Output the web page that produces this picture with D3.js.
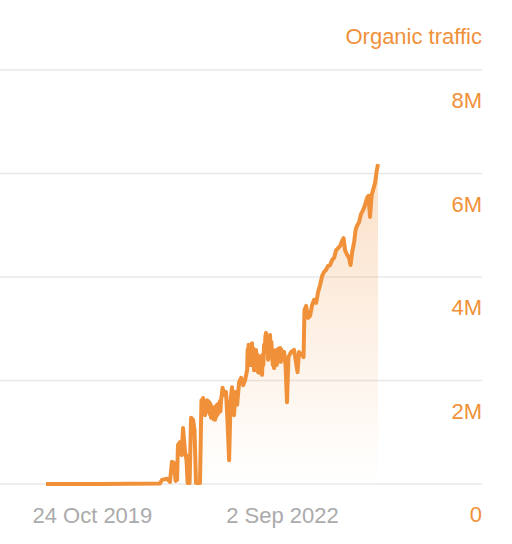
<!DOCTYPE html>
<html>
<head>
<meta charset="utf-8">
<script src="https://cdn.jsdelivr.net/npm/d3@7"></script>
<style>
  html, body { margin: 0; padding: 0; background: #fff; }
  svg { display: block; font-family: "Liberation Sans", Arial, sans-serif; }
</style>
</head>
<body>
<svg id="chart" width="512" height="544"></svg>
<script>
// organic traffic (values in millions)
const dates = [
  "2019-02-11", "2019-12-05", "2020-10-29", "2020-11-09", "2020-12-07", "2020-12-23",
  "2021-01-03", "2021-01-14", "2021-01-23", "2021-01-31", "2021-02-05", "2021-02-16",
  "2021-02-25", "2021-03-05", "2021-03-16", "2021-03-24", "2021-03-30", "2021-04-04",
  "2021-04-10", "2021-04-18", "2021-04-29", "2021-05-07", "2021-05-15", "2021-06-06",
  "2021-06-14", "2021-06-18", "2021-06-23", "2021-06-27", "2021-06-30", "2021-07-04",
  "2021-07-08", "2021-07-11", "2021-07-15", "2021-07-19", "2021-07-22", "2021-07-26",
  "2021-07-30", "2021-08-02", "2021-08-06", "2021-08-10", "2021-08-13", "2021-08-17",
  "2021-08-21", "2021-08-24", "2021-08-28", "2021-09-01", "2021-09-04", "2021-09-08",
  "2021-09-12", "2021-09-15", "2021-09-19", "2021-09-23", "2021-09-26", "2021-09-30",
  "2021-10-08", "2021-10-16", "2021-10-27", "2021-11-04", "2021-11-13", "2021-11-21",
  "2021-11-29", "2021-12-10", "2021-12-18", "2021-12-27", "2022-01-07", "2022-01-18",
  "2022-01-29", "2022-02-09", "2022-02-20", "2022-02-23", "2022-02-25", "2022-02-28",
  "2022-03-02", "2022-03-05", "2022-03-08", "2022-03-12", "2022-03-15", "2022-03-19",
  "2022-03-23", "2022-03-26", "2022-03-30", "2022-04-03", "2022-04-06", "2022-04-10",
  "2022-04-14", "2022-04-17", "2022-04-21", "2022-04-25", "2022-04-28", "2022-05-02",
  "2022-05-06", "2022-05-09", "2022-05-13", "2022-05-17", "2022-05-20", "2022-05-24",
  "2022-05-28", "2022-05-31", "2022-06-04", "2022-06-08", "2022-06-11", "2022-06-15",
  "2022-06-19", "2022-06-22", "2022-06-26", "2022-06-30", "2022-07-03", "2022-07-07",
  "2022-07-11", "2022-07-14", "2022-07-18", "2022-07-22", "2022-07-25", "2022-07-29",
  "2022-08-02", "2022-08-05", "2022-08-09", "2022-08-13", "2022-08-16", "2022-08-20",
  "2022-08-24", "2022-08-27", "2022-08-31", "2022-09-11", "2022-09-19", "2022-09-27",
  "2022-10-05", "2022-10-19", "2022-11-05", "2022-11-24", "2022-12-02", "2022-12-19",
  "2022-12-27", "2023-01-01", "2023-01-10", "2023-01-21", "2023-02-01", "2023-02-12",
  "2023-02-23", "2023-03-06", "2023-03-17", "2023-03-28", "2023-04-08", "2023-04-19",
  "2023-04-30", "2023-05-10", "2023-05-22", "2023-06-02", "2023-06-13", "2023-06-24",
  "2023-07-05", "2023-07-16", "2023-07-27", "2023-08-04", "2023-08-12", "2023-08-23",
  "2023-09-03", "2023-09-11", "2023-09-20", "2023-10-01", "2023-10-09", "2023-10-17",
  "2023-10-28", "2023-11-08", "2023-11-19", "2023-11-30", "2023-12-11", "2023-12-19",
  "2023-12-27", "2024-01-05", "2024-01-13", "2024-01-24", "2024-02-01", "2024-02-09"
];
const traffic = [
  0.00, 0.00, 0.01, 0.08, 0.10, 0.04,
  0.43, 0.41, 0.06, 0.08, 0.75, 0.81,
  0.56, 1.08, 0.62, 0.46, 0.02, 0.54,
  0.02, 1.28, 1.24, 1.04, 0.02, 0.02,
  1.62, 1.45, 1.66, 1.45, 1.60, 1.33,
  1.60, 1.40, 1.62, 1.40, 1.60, 1.58,
  1.35, 1.55, 1.28, 1.50, 1.30, 1.43,
  1.25, 1.45, 1.24, 1.50, 1.30, 1.53,
  1.35, 1.55, 1.43, 1.60, 1.40, 1.62,
  1.86, 1.72, 1.78, 1.24, 0.46, 1.62,
  1.87, 1.33, 1.78, 1.53, 1.97, 2.05,
  1.91, 2.01, 2.20, 2.60, 2.30, 2.69,
  2.40, 2.65, 2.30, 2.68, 2.35, 2.72,
  2.30, 2.62, 2.20, 2.55, 2.25, 2.59,
  2.20, 2.50, 2.16, 2.48, 2.15, 2.40,
  2.15, 2.45, 2.11, 2.50, 2.30, 2.69,
  2.55, 2.85, 2.92, 2.55, 2.85, 2.40,
  2.80, 2.50, 2.88, 2.45, 2.75, 2.55,
  2.30, 2.55, 2.24, 2.58, 2.30, 2.55,
  2.30, 2.60, 2.36, 2.62, 2.38, 2.63,
  2.36, 2.60, 2.40, 2.55, 2.30, 1.58,
  2.45, 2.55, 2.59, 2.16, 2.55, 2.49,
  2.45, 3.36, 3.44, 3.21, 3.25, 3.46,
  3.56, 3.50, 3.71, 3.85, 4.02, 4.10,
  4.14, 4.21, 4.23, 4.33, 4.37, 4.52,
  4.56, 4.60, 4.70, 4.75, 4.52, 4.43,
  4.37, 4.23, 4.48, 4.68, 4.91, 4.99,
  5.06, 5.22, 5.29, 5.39, 5.53, 5.57,
  5.16, 5.58, 5.68, 5.82, 6.03, 6.18
];
const yTicks = [0, 2, 4, 6, 8];
const yTickLabels = ["0", "2M", "4M", "6M", "8M"];
const xTickDates = ["2019-10-24", "2022-09-02"];
const xTickLabels = ["24 Oct 2019", "2 Sep 2022"];
const seriesName = "Organic traffic";

const orange = "#f0913a";
const parseDate = d3.timeParse("%Y-%m-%d");
const data = dates.map((d, i) => ({ date: parseDate(d), value: traffic[i] }));

const svg = d3.select("#chart");
const gridLeft = 0, gridRight = 482;

const x = d3.scaleTime()
  .domain(d3.extent(data, d => d.date))
  .range([46, 378]);
const y = d3.scaleLinear()
  .domain([0, 8])
  .range([484, 70]);

// gridlines
svg.append("g")
  .selectAll("line")
  .data(yTicks)
  .join("line")
  .attr("x1", gridLeft)
  .attr("x2", gridRight)
  .attr("y1", d => y(d))
  .attr("y2", d => y(d))
  .attr("stroke", "#e8e8e8")
  .attr("stroke-width", 1.5);

// area gradient
const grad = svg.append("defs").append("linearGradient")
  .attr("id", "fade")
  .attr("x1", 0).attr("y1", 0).attr("x2", 0).attr("y2", 1);
grad.append("stop").attr("offset", "0%").attr("stop-color", orange).attr("stop-opacity", 0.28);
grad.append("stop").attr("offset", "100%").attr("stop-color", orange).attr("stop-opacity", 0.0);

const area = d3.area()
  .x(d => x(d.date))
  .y0(y(0))
  .y1(d => y(d.value));

svg.append("path")
  .datum(data)
  .attr("d", area)
  .attr("fill", "url(#fade)");

const line = d3.line()
  .x(d => x(d.date))
  .y(d => y(d.value));

svg.append("path")
  .datum(data)
  .attr("d", line)
  .attr("fill", "none")
  .attr("stroke", orange)
  .attr("stroke-width", 4)
  .attr("stroke-linejoin", "round");

// y labels, sitting under their gridline
svg.append("g")
  .selectAll("text")
  .data(yTicks)
  .join("text")
  .attr("x", gridRight)
  .attr("y", d => y(d) + 38)
  .attr("text-anchor", "end")
  .attr("fill", orange)
  .style("font-size", "22px")
  .text((d, i) => yTickLabels[i]);

// x labels
svg.append("g")
  .selectAll("text")
  .data(xTickDates)
  .join("text")
  .attr("x", d => x(parseDate(d)))
  .attr("y", 523)
  .attr("text-anchor", "middle")
  .attr("fill", "#ababab")
  .style("font-size", "22px")
  .text((d, i) => xTickLabels[i]);

// series title
svg.append("text")
  .attr("x", gridRight)
  .attr("y", 44)
  .attr("text-anchor", "end")
  .attr("fill", orange)
  .style("font-size", "22px")
  .text(seriesName);
</script>
</body>
</html>
